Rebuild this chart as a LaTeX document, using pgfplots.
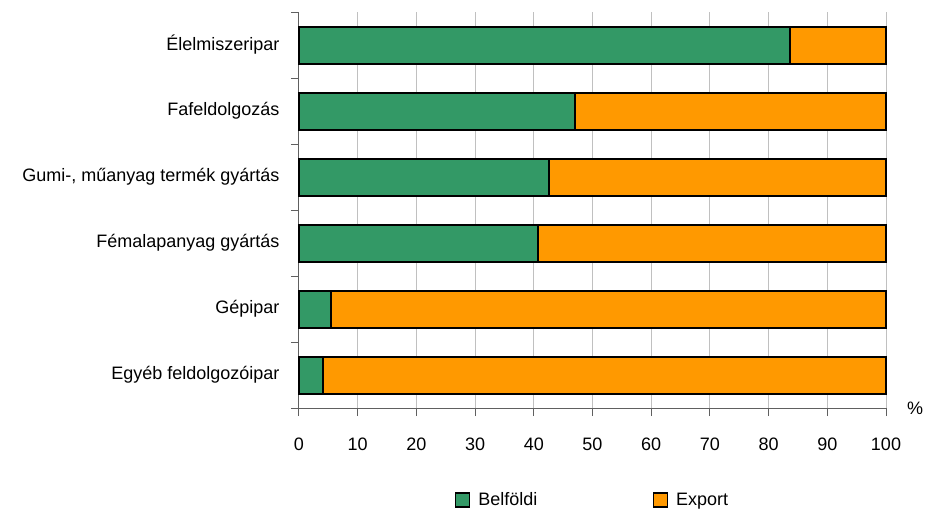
\documentclass[border=0pt]{standalone}
\usepackage{fontspec}
\setmainfont{Liberation Sans}
\usepackage{pgfplots}
\pgfplotsset{compat=1.18}
\definecolor{belf}{HTML}{339966}
\definecolor{expo}{HTML}{FF9900}
\definecolor{axgray}{HTML}{606060}
\definecolor{grd}{HTML}{C0C0C0}
\begin{document}
\begin{tikzpicture}
\begin{axis}[
  scale only axis,
  width=587pt, height=396pt,
  xbar stacked,
  bar width=37pt,
  y dir=reverse,
  xmin=0, xmax=100,
  ymin=-0.5, ymax=5.5,
  xtick={0,10,...,100},
  ytick={0,...,5},
  yticklabels={Élelmiszeripar,Fafeldolgozás,{Gumi-, műanyag termék gyártás},Fémalapanyag gyártás,Gépipar,Egyéb feldolgozóipar},
  minor ytick={-0.5,0.5,...,5.5},
  major y tick style={draw=none},
  tick align=outside,
  major tick length=8pt,
  minor tick length=8pt,
  tick style={axgray, line width=1pt},
  axis x line*=bottom,
  axis y line*=left,
  axis line style={axgray, line width=1pt},
  xmajorgrids,
  grid style={grd, line width=1pt},
  ticklabel style={font=\fontsize{18}{21}\selectfont},
  /pgf/number format/assume math mode=true,
  xticklabel style={yshift=-18pt},
  yticklabel style={xshift=-8pt},
  legend columns=2,
  legend style={at={(0.5,-0.232)}, anchor=center, draw=none,
    font=\fontsize{18}{21}\selectfont,
    /tikz/every odd column/.append style={column sep=6pt},
    /tikz/every even column/.append style={column sep=113pt}},
  legend image code/.code={\draw[#1, line width=1.5pt] (0pt,-7pt) rectangle (14pt,7pt);},
  clip=false,
]
\addplot[fill=belf, draw=black, line width=2pt] coordinates {
(83.6,0) (47.1,1) (42.6,2) (40.7,3) (5.4,4) (4.1,5)
};
\addplot[fill=expo, draw=black, line width=2pt] coordinates {
(16.4,0) (52.9,1) (57.4,2) (59.3,3) (94.6,4) (95.9,5)
};
\legend{Belföldi,Export}
\coordinate (O) at (rel axis cs:0,0);
\node[font=\fontsize{18}{21}\selectfont, anchor=center] at ([xshift=29pt,yshift=0pt]rel axis cs:1,0) {\%};
\end{axis}
\pgfresetboundingbox
\path[use as bounding box] ([xshift=-299pt,yshift=-104pt]O) rectangle ([xshift=627pt,yshift=408pt]O);
\end{tikzpicture}
\end{document}
